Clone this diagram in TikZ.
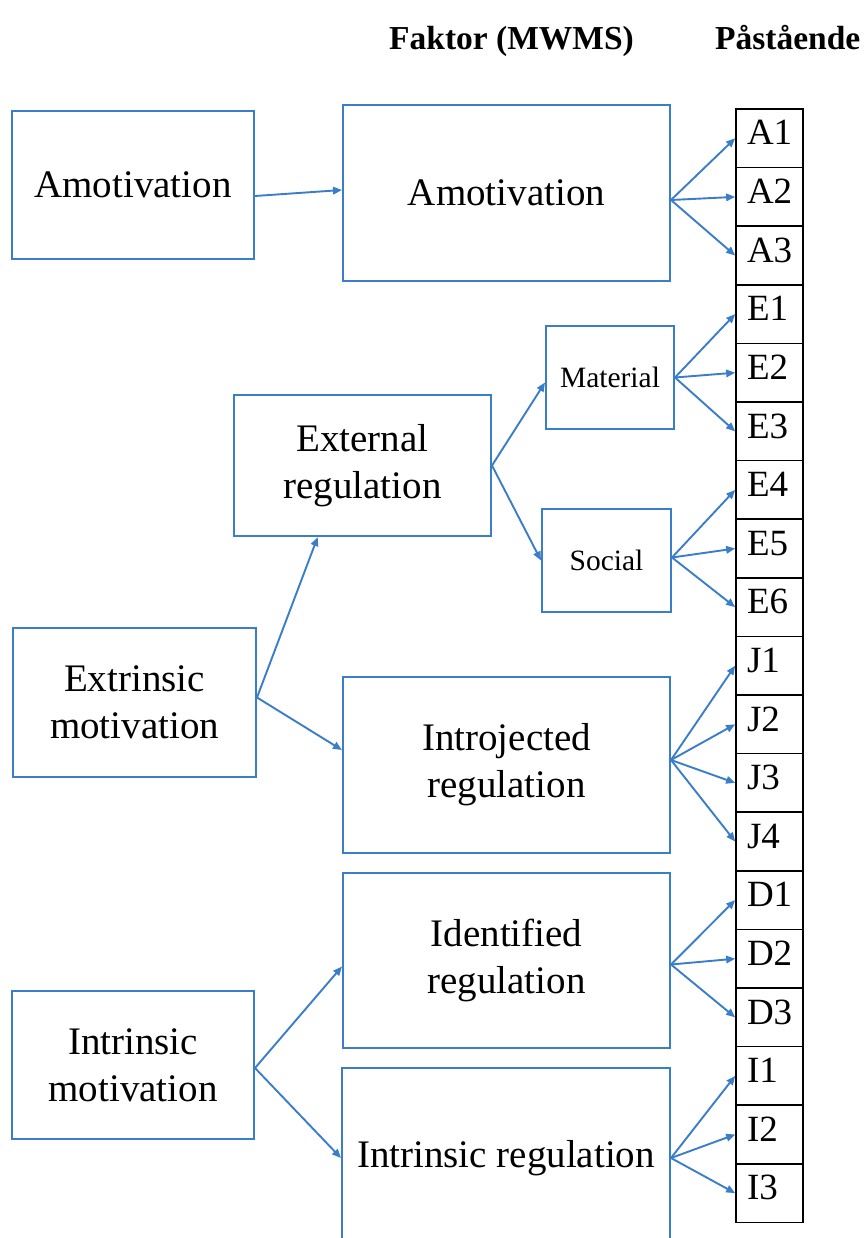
\documentclass[tikz,border=0pt]{standalone}
\usepackage{fontspec}
\setmainfont{Liberation Serif}[BoldFont={Liberation Serif Bold}]
\usetikzlibrary{arrows.meta,calc}
\definecolor{lineblue}{RGB}{58,125,200}
\begin{document}
\begin{tikzpicture}[x=1pt,y=-1pt,
  bx/.style={draw=lineblue, line width=2pt, inner sep=0pt, align=center,
    font=\fontsize{39}{47}\selectfont},
  smallbx/.style={bx, font=\fontsize{29.5}{35}\selectfont},
  cell/.style={draw=black, line width=1.7pt, minimum width=67pt, minimum height=58.6pt,
    inner xsep=11pt, inner ysep=0pt, text width=45pt, align=left,
    text height=36pt, text depth=22.6pt, font=\fontsize{37}{40}\selectfont},
  hdr/.style={anchor=base west, inner sep=0pt, font=\bfseries\fontsize{33.5}{36}\selectfont},
  arr/.style={draw=lineblue, line width=1.9pt, -{Triangle[length=9pt,width=7.5pt]}}
]
\useasboundingbox (0,0) rectangle (863,1238);
\fill[white] (0,0) rectangle (863,1238);
\clip (0,0) rectangle (863,1238);

% headers
\node[hdr] (h1) at (389,50) {Faktor (MWMS)};
\node[hdr] (h2) at (715,50) {Påstående};

% boxes
\node[bx, minimum width=242pt, minimum height=148pt] (lamot) at (133,185) {Amotivation};
\node[bx, minimum width=327pt, minimum height=176pt] (mamot) at (506.5,193) {Amotivation};
\node[bx, minimum width=257pt, minimum height=141pt] (extreg) at (362.5,465.5) {External\\regulation};
\node[smallbx, minimum width=128pt, minimum height=103pt] (mat) at (610,377.5) {Material};
\node[smallbx, minimum width=129pt, minimum height=103pt] (soc) at (606.5,560.5) {Social};
\node[bx, minimum width=243pt, minimum height=149pt] (extr) at (134.5,702.5) {Extrinsic\\motivation};
\node[bx, minimum width=327pt, minimum height=176pt] (intro) at (506.5,765) {Introjected\\regulation};
\node[bx, minimum width=242pt, minimum height=148pt] (intrm) at (133,1065) {Intrinsic\\motivation};
\node[bx, minimum width=327pt, minimum height=175pt] (ident) at (506.5,960.5) {Identified\\regulation};
\node[bx, minimum width=328pt, minimum height=180pt] (intreg) at (506,1158) {Intrinsic regulation};

% column of statements
\foreach \lab [count=\i from 0] in {A1,A2,A3,E1,E2,E3,E4,E5,E6,J1,J2,J3,J4,D1,D2,D3,I1,I2,I3}
  \node[cell] (\lab) at (769.5,{109+58.6*(\i+0.5)}) {\lab};

% connectors
\draw[arr] ([yshift=-11pt]lamot.east) -- ([yshift=3pt]mamot.west);
\foreach \t in {A1,A2,A3} \draw[arr] ([yshift=-7pt]mamot.east) -- (\t.west);
\draw[arr] ([yshift=5pt]extr.east) -- ($(extreg.south west)!0.327!(extreg.south east)$);
\draw[arr] ([yshift=5pt]extr.east) -- ([yshift=15pt]intro.west);
\draw[arr] (extreg.east) -- ([yshift=-5pt]mat.west);
\draw[arr] (extreg.east) -- (soc.west);
\foreach \t in {E1,E2,E3} \draw[arr] (mat.east) -- (\t.west);
\foreach \t in {E4,E5,E6} \draw[arr] ([yshift=3pt]soc.east) -- (\t.west);
\foreach \t in {J1,J2,J3,J4} \draw[arr] ([yshift=5pt]intro.east) -- (\t.west);
\draw[arr] ([yshift=-3pt]intrm.east) -- ([yshift=-6pt]ident.west);
\draw[arr] ([yshift=-3pt]intrm.east) -- (intreg.west);
\foreach \t in {D1,D2,D3} \draw[arr] ([yshift=-4pt]ident.east) -- (\t.west);
\foreach \t in {I1,I2,I3} \draw[arr] (intreg.east) -- (\t.west);
\end{tikzpicture}
\end{document}
